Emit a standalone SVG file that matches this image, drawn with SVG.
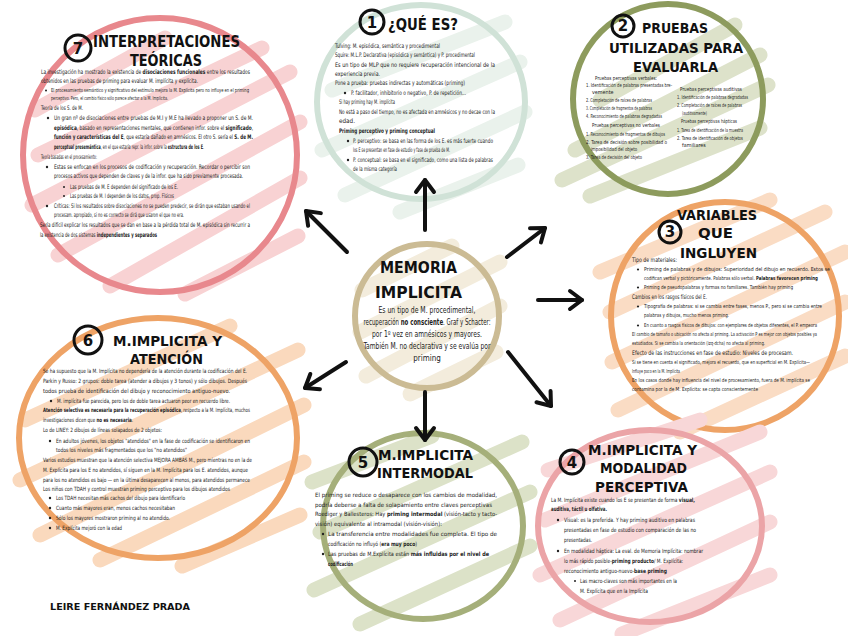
<svg xmlns="http://www.w3.org/2000/svg" width="848" height="636" viewBox="0 0 848 636">
<defs>
<style>
.scrib{fill:none;stroke-linecap:round;stroke-width:15}
.ring{fill:none;stroke-width:6}
.num{fill:none;stroke:#111;stroke-width:3}
.numt{font-family:"DejaVu Sans",sans-serif;font-weight:bold;font-size:15px;fill:#111;text-anchor:middle}
.ttl{font-family:"DejaVu Sans",sans-serif;font-weight:bold;fill:#111}
.t{font-family:"Liberation Sans Narrow","DejaVu Sans Condensed","Liberation Sans",sans-serif;font-size:6.3px;fill:#222}
.s{font-family:"Liberation Sans Narrow","DejaVu Sans Condensed","Liberation Sans",sans-serif;font-size:5.4px;fill:#222}
.c{font-family:"Liberation Sans Narrow","DejaVu Sans Condensed","Liberation Sans",sans-serif;font-size:8px;fill:#222;text-anchor:middle}
.m{font-size:5.8px}
.b{font-weight:bold}
.dot{fill:#222}
.arr{stroke:#111;stroke-width:4;stroke-linecap:round;fill:none}
</style>
<marker id="ah" markerUnits="userSpaceOnUse" markerWidth="24" markerHeight="24" viewBox="0 0 24 24" refX="16" refY="12" orient="auto">
<path d="M4,3 L16,12 L4,21" fill="none" stroke="#111" stroke-width="4" stroke-linecap="round" stroke-linejoin="round"/>
</marker>
</defs>
<rect width="848" height="636" fill="#ffffff"/>

<!-- Node 7 -->
<g id="node-7">
<g class="scrib" stroke="#f8d2d3">
<path d="M35,110 L165,38"/><path d="M38,155 L262,48"/><path d="M32,205 L290,72"/><path d="M58,255 L300,122"/><path d="M110,286 L300,178"/><path d="M185,294 L298,236"/>
</g>
<circle class="ring" cx="160" cy="155" r="137" stroke="#e8888d"/>
<circle class="num" cx="78" cy="48" r="13"/><text class="numt" x="78" y="54">7</text>
<text class="ttl" x="93" y="47" font-size="15" textLength="147" lengthAdjust="spacingAndGlyphs">INTERPRETACIONES</text>
<text class="ttl" x="130" y="66" font-size="15" textLength="72" lengthAdjust="spacingAndGlyphs">TEÓRICAS</text>
<text class="t" x="41" y="74" textLength="209" lengthAdjust="spacingAndGlyphs">La investigación ha mostrado la existencia de <tspan class="b">disociaciones funcionales</tspan> entre los resultados</text>
<text class="t" x="41" y="83" textLength="157" lengthAdjust="spacingAndGlyphs">obtenidos en las pruebas de priming para evaluar M. implícita y explícita.</text>
<circle class="dot" cx="46" cy="90.5" r="1"/>
<text class="s" x="51" y="92" textLength="198" lengthAdjust="spacingAndGlyphs">El procesamiento semántico y significativo del estímulo mejora la M. Explícita pero no influye en el priming</text>
<text class="s" x="51" y="100" textLength="117" lengthAdjust="spacingAndGlyphs">perceptivo. Pero, el cambio físico sólo parece afectar a la M. Implícita.</text>
<text class="t" x="41" y="110" textLength="42" lengthAdjust="spacingAndGlyphs">Teoría de los S. de M.</text>
<circle class="dot" cx="48" cy="118" r="1.2"/>
<text class="t" x="54" y="120" textLength="199" lengthAdjust="spacingAndGlyphs">Un gran nº de disociaciones entre pruebas de M.I y M.E ha llevado a proponer un S. de M.</text>
<text class="t" x="54" y="129.5" textLength="199" lengthAdjust="spacingAndGlyphs"><tspan class="b">episódica</tspan>, basado en representaciones mentales, que contienen infor. sobre el <tspan class="b">significado</tspan>,</text>
<text class="t" x="54" y="139" textLength="199" lengthAdjust="spacingAndGlyphs"><tspan class="b">función y características del E</tspan>, que estaría dañado en amnésicos. El otro S. sería el <tspan class="b">S. de M.</tspan></text>
<text class="t" x="54" y="149" textLength="150" lengthAdjust="spacingAndGlyphs"><tspan class="b">perceptual presemántica</tspan>, en el que estaría repr. la infor. sobre la <tspan class="b">estructura de los E</tspan>.</text>
<text class="t" x="41" y="159" textLength="56" lengthAdjust="spacingAndGlyphs">Teoría basadas en el procesamiento:</text>
<circle class="dot" cx="47" cy="167" r="1.2"/>
<text class="t" x="54" y="169" textLength="196" lengthAdjust="spacingAndGlyphs">Estas se enfocan en los procesos de codificación y recuperación. Recordar o percibir son</text>
<text class="t" x="54" y="178" textLength="189" lengthAdjust="spacingAndGlyphs">procesos activos que dependen de claves y de la infor. que ha sido previamente procesada.</text>
<circle class="dot" cx="64" cy="187" r="1"/>
<text class="t" x="70" y="189" textLength="108" lengthAdjust="spacingAndGlyphs">Las pruebas de M. E dependen del significado de los E.</text>
<circle class="dot" cx="64" cy="196" r="1"/>
<text class="t" x="70" y="198" textLength="104" lengthAdjust="spacingAndGlyphs">Las pruebas de M. I dependen de los datos, prop. Físicos</text>
<circle class="dot" cx="47" cy="206" r="1.2"/>
<text class="t" x="54" y="208" textLength="196" lengthAdjust="spacingAndGlyphs">Críticas: Si los resultados sobre disociaciones no se pueden predecir, se dirán que estaban usando el</text>
<text class="t" x="54" y="217" textLength="130" lengthAdjust="spacingAndGlyphs">procesam. apropiado, si no es correcto se dirá que usaron el que no era.</text>
<text class="t" x="40" y="227" textLength="210" lengthAdjust="spacingAndGlyphs">Sería difícil explicar los resultados que se dan en base a la pérdida total de M. episódica sin recurrir a</text>
<text class="t" x="40" y="237" textLength="117" lengthAdjust="spacingAndGlyphs">la existencia de dos sistemas <tspan class="b">independientes y separados</tspan></text>
</g>

<!-- Node 1 -->
<g id="node-1">
<g class="scrib" stroke="#eaf2ec">
<path d="M332,90 L505,22"/><path d="M322,150 L520,62"/><path d="M345,195 L525,112"/><path d="M400,212 L518,165"/>
</g>
<ellipse class="ring" cx="421" cy="102" rx="104" ry="97" stroke="#d0e2d7"/>
<circle class="num" cx="372" cy="22" r="12"/><text class="numt" x="372" y="28">1</text>
<text class="ttl" x="388" y="30" font-size="15" textLength="70" lengthAdjust="spacingAndGlyphs">¿QUÉ ES?</text>
<text class="t" x="335" y="48" textLength="105" lengthAdjust="spacingAndGlyphs">Tulving: M. episódica, semántica y procedimental</text>
<text class="t" x="335" y="57" textLength="140" lengthAdjust="spacingAndGlyphs">Squire: M.L.P. Declarativa (episódica y semántica) y P. procedimental</text>
<text class="t" x="335" y="67" textLength="160" lengthAdjust="spacingAndGlyphs">Es un tipo de MLP que no requiere recuperación intencional de la</text>
<text class="t" x="335" y="76" textLength="45" lengthAdjust="spacingAndGlyphs">experiencia previa.</text>
<text class="t" x="335" y="85" textLength="130" lengthAdjust="spacingAndGlyphs">Pone a prueba: pruebas indirectas y automáticas (priming)</text>
<circle class="dot" cx="345" cy="93" r="1.2"/>
<text class="t" x="351" y="95" textLength="115" lengthAdjust="spacingAndGlyphs">P. facilitador, inhibitorio o negativo, P. de repetición...</text>
<text class="t" x="339" y="104" textLength="56" lengthAdjust="spacingAndGlyphs">Si hay priming hay M. implícita</text>
<text class="t" x="339" y="114" textLength="156" lengthAdjust="spacingAndGlyphs">No está a paso del tiempo, no es afectada en amnésicos y no decae con la</text>
<text class="t" x="339" y="123">edad.</text>
<text class="t b" x="339" y="133" textLength="96" lengthAdjust="spacingAndGlyphs">Priming perceptivo y priming conceptual</text>
<circle class="dot" cx="348" cy="141" r="1.2"/>
<text class="t" x="353" y="143" textLength="140" lengthAdjust="spacingAndGlyphs">P. perceptivo: se basa en las forma de los E. es más fuerte cuando</text>
<text class="t" x="353" y="152" textLength="97" lengthAdjust="spacingAndGlyphs">los E se presentan en fase de estudio y fase de prueba de M.</text>
<circle class="dot" cx="348" cy="160" r="1.2"/>
<text class="t" x="353" y="162" textLength="140" lengthAdjust="spacingAndGlyphs">P. conceptual: se basa en el significado, como una lista de palabras</text>
<text class="t" x="353" y="171" textLength="44" lengthAdjust="spacingAndGlyphs">de la misma categoría</text>
</g>

<!-- Node 2 -->
<g id="node-2">
<g class="scrib" stroke="#dde2ca">
<path d="M600,100 L735,25"/><path d="M575,150 L760,55"/><path d="M562,180 L768,85"/><path d="M590,196 L760,128"/>
</g>
<circle class="ring" cx="668" cy="99" r="95" stroke="#8d9b5d"/>
<circle class="num" cx="623" cy="26" r="11"/><text class="numt" x="623" y="31" font-size="13">2</text>
<text class="ttl" x="642" y="33" font-size="14" textLength="66" lengthAdjust="spacingAndGlyphs">PRUEBAS</text>
<text class="ttl" x="609" y="53" font-size="14" textLength="134" lengthAdjust="spacingAndGlyphs">UTILIZADAS PARA</text>
<text class="ttl" x="633" y="72" font-size="14" textLength="85" lengthAdjust="spacingAndGlyphs">EVALUARLA</text>
<text class="s" x="595" y="80" textLength="62" lengthAdjust="spacingAndGlyphs">Pruebas perceptivas verbales:</text>
<text class="s" x="586" y="87" textLength="86" lengthAdjust="spacingAndGlyphs">1. Identificación de palabras presentadas bre-</text>
<text class="s" x="592" y="94">vemente</text>
<text class="s" x="586" y="102" textLength="66" lengthAdjust="spacingAndGlyphs">2. Completación de raíces de palabras</text>
<text class="s" x="586" y="110" textLength="66" lengthAdjust="spacingAndGlyphs">3. Completación de fragmentos de palabras</text>
<text class="s" x="586" y="118" textLength="76" lengthAdjust="spacingAndGlyphs">4. Reconocimiento de palabras degradadas</text>
<text class="s" x="592" y="127" textLength="68" lengthAdjust="spacingAndGlyphs">Pruebas perceptivas no verbales</text>
<text class="s" x="586" y="136" textLength="79" lengthAdjust="spacingAndGlyphs">1. Reconocimiento de fragmentos de dibujos</text>
<text class="s" x="586" y="144" textLength="81" lengthAdjust="spacingAndGlyphs">2. Tarea de decisión sobre posibilidad o</text>
<text class="s" x="591" y="151" textLength="46" lengthAdjust="spacingAndGlyphs">imposibilidad del objeto</text>
<text class="s" x="586" y="159" textLength="56" lengthAdjust="spacingAndGlyphs">3. Tarea de decisión del objeto</text>
<text class="s" x="680" y="91" textLength="62" lengthAdjust="spacingAndGlyphs">Pruebas perceptivas auditivas</text>
<text class="s" x="677" y="99" textLength="71" lengthAdjust="spacingAndGlyphs">1. Identificación de palabras degradadas</text>
<text class="s" x="677" y="107" textLength="65" lengthAdjust="spacingAndGlyphs">2. Completación de raíces de palabras</text>
<text class="s" x="682" y="115" textLength="25" lengthAdjust="spacingAndGlyphs">(auditivamente)</text>
<text class="s" x="681" y="123" textLength="56" lengthAdjust="spacingAndGlyphs">Pruebas perceptivas hápticas</text>
<text class="s" x="677" y="132" textLength="66" lengthAdjust="spacingAndGlyphs">1. Tarea de identificación de la muestra</text>
<text class="s" x="677" y="140" textLength="66" lengthAdjust="spacingAndGlyphs">2. Tarea de identificación de objetos</text>
<text class="s" x="682" y="147">familiares</text>
</g>

<!-- Node 3 -->
<g id="node-3">
<g class="scrib" stroke="#fadcc4">
<path d="M600,272 L770,200"/><path d="M610,312 L825,212"/><path d="M612,362 L845,252"/><path d="M618,410 L845,302"/><path d="M680,432 L845,356"/>
</g>
<circle class="ring" cx="725" cy="316" r="114" stroke="#eea366"/>
<circle class="num" cx="670" cy="232" r="11"/><text class="numt" x="670" y="237" font-size="13">3</text>
<text class="ttl" x="677" y="220" font-size="14" textLength="80" lengthAdjust="spacingAndGlyphs">VARIABLES</text>
<text class="ttl" x="698" y="238" font-size="14" textLength="35" lengthAdjust="spacingAndGlyphs">QUE</text>
<text class="ttl" x="680" y="258" font-size="14" textLength="77" lengthAdjust="spacingAndGlyphs">INGLUYEN</text>
<text class="t" x="632" y="262" textLength="45" lengthAdjust="spacingAndGlyphs">Tipo de materiales:</text>
<circle class="dot" cx="638" cy="269.5" r="1.1"/>
<text class="s" x="644" y="271" textLength="186" lengthAdjust="spacingAndGlyphs">Priming de palabras y de dibujos: Superioridad del dibujo en recuerdo. Estos se</text>
<text class="s" x="644" y="280" textLength="174" lengthAdjust="spacingAndGlyphs">codifican verbal y pictóricamente. Palabras sólo verbal. <tspan class="b">Palabras favorecen priming</tspan></text>
<circle class="dot" cx="638" cy="287.5" r="1.1"/>
<text class="s" x="644" y="289" textLength="149" lengthAdjust="spacingAndGlyphs">Priming de pseudopalabras y formas no familiares. También hay priming</text>
<text class="t" x="632" y="299" textLength="75" lengthAdjust="spacingAndGlyphs">Cambios en los rasgos físicos del E.</text>
<circle class="dot" cx="638" cy="306.5" r="1.1"/>
<text class="s" x="644" y="308" font-size="4.8" textLength="178" lengthAdjust="spacingAndGlyphs">Tipografía de palabras: si se cambia entre fases, menos P., pero si se cambia entre</text>
<text class="s" x="644" y="317" textLength="85" lengthAdjust="spacingAndGlyphs">palabras y dibujos, mucho menos priming.</text>
<circle class="dot" cx="638" cy="325.5" r="1.1"/>
<text class="s" x="644" y="327" font-size="4.3" textLength="173" lengthAdjust="spacingAndGlyphs">En cuanto a rasgos físicos de dibujos: con ejemplares de objetos diferentes, el P. empeora</text>
<text class="s" x="632" y="336" font-size="4.2" textLength="185" lengthAdjust="spacingAndGlyphs">El cambio de tamaño o ubicación no afecta al priming. La activación P es mejor con objetos posibles ya</text>
<text class="s" x="632" y="345" textLength="133" lengthAdjust="spacingAndGlyphs">estudiados. Si se cambia la orientación (izq-dcha) no afecta al priming.</text>
<text class="t" x="632" y="355" font-size="7" textLength="161" lengthAdjust="spacingAndGlyphs">Efecto de las instrucciones en fase de estudio: Niveles de procesam.</text>
<text class="s" x="632" y="364" font-size="4.4" textLength="178" lengthAdjust="spacingAndGlyphs">Si se tiene en cuenta el significado, mejora el recuerdo, que en superficial en M. Explícita—</text>
<text class="s" x="632" y="373" textLength="48" lengthAdjust="spacingAndGlyphs">Influye poco en la M. Implícita</text>
<text class="s" x="632" y="382" font-size="4.8" textLength="178" lengthAdjust="spacingAndGlyphs">En los casos donde hay influencia del nivel de procesamiento, fuera de M. implícita se</text>
<text class="s" x="632" y="391" textLength="126" lengthAdjust="spacingAndGlyphs">contamina por la de M. Explícita: se capta conscientemente</text>
</g>

<!-- Node 4 -->
<g id="node-4">
<g class="scrib" stroke="#f8d7d8">
<path d="M548,470 L700,420"/><path d="M545,520 L760,432"/><path d="M540,575 L770,472"/><path d="M560,620 L770,522"/><path d="M622,634 L770,575"/>
</g>
<ellipse class="ring" cx="650" cy="526" rx="112" ry="96" stroke="#eba4a7"/>
<circle class="num" cx="572" cy="462" r="12"/><text class="numt" x="572" y="468" font-size="14">4</text>
<text class="ttl" x="588" y="455" font-size="14" textLength="109" lengthAdjust="spacingAndGlyphs">M.IMPLICITA Y</text>
<text class="ttl" x="600" y="473" font-size="14" textLength="87" lengthAdjust="spacingAndGlyphs">MODALIDAD</text>
<text class="ttl" x="595" y="492" font-size="14" textLength="93" lengthAdjust="spacingAndGlyphs">PERCEPTIVA</text>
<text class="t m" x="551" y="502" textLength="144" lengthAdjust="spacingAndGlyphs">La M. Implícita existe cuando los E se presentan de forma <tspan class="b">visual,</tspan></text>
<text class="t m b" x="551" y="511" textLength="56" lengthAdjust="spacingAndGlyphs">auditiva, táctil u olfativa.</text>
<circle class="dot" cx="558" cy="520" r="1.2"/>
<text class="t m" x="564" y="522" textLength="131" lengthAdjust="spacingAndGlyphs">Visual: es la preferida. Y hay priming auditivo en palabras</text>
<text class="t m" x="564" y="532" textLength="132" lengthAdjust="spacingAndGlyphs">presentadas en fase de estudio con comparación de las no</text>
<text class="t m" x="564" y="542" textLength="28" lengthAdjust="spacingAndGlyphs">presentadas.</text>
<circle class="dot" cx="558" cy="551" r="1.2"/>
<text class="t m" x="564" y="553" textLength="139" lengthAdjust="spacingAndGlyphs">En modalidad háptica: La eval. de Memoria Implícita: nombrar</text>
<text class="t m" x="564" y="563" textLength="119" lengthAdjust="spacingAndGlyphs">lo más rápido posible-<tspan class="b">priming producto</tspan>/ M. Explícita:</text>
<text class="t m" x="564" y="573" textLength="103" lengthAdjust="spacingAndGlyphs">reconocimiento antiguo-nuevo-<tspan class="b">base priming</tspan></text>
<circle class="dot" cx="575" cy="581" r="1"/>
<text class="t m" x="580" y="583" textLength="97" lengthAdjust="spacingAndGlyphs">Las macro-claves son más importantes en la</text>
<text class="t m" x="580" y="593" textLength="68" lengthAdjust="spacingAndGlyphs">M. Explícita que en la Implícita</text>
</g>

<!-- Node 5 -->
<g id="node-5">
<g class="scrib" stroke="#dce2c8">
<path d="M312,482 L432,436"/><path d="M320,532 L522,442"/><path d="M314,590 L530,492"/><path d="M360,624 L530,546"/>
</g>
<ellipse class="ring" cx="423" cy="526" rx="100" ry="93" stroke="#a5af7a"/>
<circle class="num" cx="363" cy="462" r="14"/><text class="numt" x="363" y="468" font-size="16">5</text>
<text class="ttl" x="378" y="460" font-size="14" textLength="95" lengthAdjust="spacingAndGlyphs">M.IMPLICITA</text>
<text class="ttl" x="377" y="478" font-size="14" textLength="96" lengthAdjust="spacingAndGlyphs">INTERMODAL</text>
<text class="t m" x="315" y="497" textLength="182" lengthAdjust="spacingAndGlyphs">El priming se reduce o desaparece con los cambios de modalidad,</text>
<text class="t m" x="315" y="506.5" textLength="177" lengthAdjust="spacingAndGlyphs">podría deberse a falta de solapamiento entre claves perceptivas</text>
<text class="t m" x="315" y="516" textLength="182" lengthAdjust="spacingAndGlyphs">Roediger y Ballesteros: Hay <tspan class="b">priming intermodal</tspan> (visión-tacto y tacto-</text>
<text class="t m" x="315" y="525.5" textLength="127" lengthAdjust="spacingAndGlyphs">visión) equivalente al intramodal (visión-visión):</text>
<circle class="dot" cx="323" cy="534" r="1.2"/>
<text class="t m" x="328" y="536" textLength="169" lengthAdjust="spacingAndGlyphs">La transferencia entre modalidades fue completa. El tipo de</text>
<text class="t m" x="328" y="545.5" textLength="89" lengthAdjust="spacingAndGlyphs">codificación no influyó (<tspan class="b">era muy poco</tspan>)</text>
<circle class="dot" cx="323" cy="554" r="1.2"/>
<text class="t m" x="328" y="556" textLength="161" lengthAdjust="spacingAndGlyphs">Las pruebas de M.Explícita están <tspan class="b">más influidas por el nivel de</tspan></text>
<text class="t m b" x="328" y="565.5" textLength="25" lengthAdjust="spacingAndGlyphs">codificación</text>
</g>

<!-- Node 6 -->
<g id="node-6">
<g class="scrib" stroke="#fad9bd">
<path d="M25,420 L230,326"/><path d="M20,480 L298,350"/><path d="M40,535 L304,405"/><path d="M100,560 L304,462"/><path d="M182,566 L300,515"/>
</g>
<ellipse class="ring" cx="158" cy="438" rx="139" ry="120" stroke="#eea366"/>
<circle class="num" cx="88" cy="340" r="14"/><text class="numt" x="88" y="346" font-size="16">6</text>
<text class="ttl" x="113" y="346" font-size="14" textLength="109" lengthAdjust="spacingAndGlyphs">M.IMPLICITA Y</text>
<text class="ttl" x="130" y="364" font-size="14" textLength="73" lengthAdjust="spacingAndGlyphs">ATENCIÓN</text>
<text class="t m" x="43" y="373" textLength="204" lengthAdjust="spacingAndGlyphs">Se ha supuesto que la M. Implícita no dependería de la atención durante la codificación del E.</text>
<text class="t m" x="43" y="383" textLength="204" lengthAdjust="spacingAndGlyphs">Parkin y Russo: 2 grupos: doble tarea (atender a dibujos y 3 tonos) y sólo dibujos. Después</text>
<text class="t m" x="43" y="393" textLength="187" lengthAdjust="spacingAndGlyphs">todos prueba de identificación del dibujo y reconocimiento antiguo-nuevo.</text>
<circle class="dot" cx="51" cy="401" r="1.2"/>
<text class="t m" x="57" y="403" textLength="173" lengthAdjust="spacingAndGlyphs">M. implícita fue parecida, pero los de doble tarea actuaron peor en recuerdo libre.</text>
<text class="t m" x="43" y="412" textLength="207" lengthAdjust="spacingAndGlyphs"><tspan class="b">Atención selectiva es necesaria para la recuperación episódica</tspan>, respecto a la M. Implícita, muchos</text>
<text class="t m" x="43" y="422" textLength="90" lengthAdjust="spacingAndGlyphs">investigaciones dicen que <tspan class="b">no es necesaria</tspan>.</text>
<text class="t m" x="43" y="432" textLength="119" lengthAdjust="spacingAndGlyphs">Lo de LINEY: 2 dibujos de líneas solapados de 2 objetos:</text>
<circle class="dot" cx="50" cy="441" r="1.2"/>
<text class="t m" x="56" y="443" textLength="194" lengthAdjust="spacingAndGlyphs">En adultos jóvenes, los objetos "atendidos" en la fase de codificación se identificaron en</text>
<text class="t m" x="56" y="452" textLength="131" lengthAdjust="spacingAndGlyphs">todos los niveles más fragmentados que los "no atendidos"</text>
<text class="t m" x="43" y="462" textLength="209" lengthAdjust="spacingAndGlyphs">Varios estudios muestran que la atención selectiva MEJORA AMBAS M., pero mientras no en la de</text>
<text class="t m" x="43" y="472" textLength="205" lengthAdjust="spacingAndGlyphs">M. Explícita para los E no atendidos, sí siguen en la M. Implícita para los E. atendidos, aunque</text>
<text class="t m" x="43" y="482" textLength="207" lengthAdjust="spacingAndGlyphs">para los no atendidos es bajo — en la última desaparecen al menos, para atendidos permanece</text>
<text class="t m" x="43" y="491" textLength="187" lengthAdjust="spacingAndGlyphs">Los niños con TDAH y control muestran priming perceptivo para los dibujos atendidos</text>
<circle class="dot" cx="50" cy="498" r="1.2"/>
<text class="t m" x="56" y="500" textLength="129" lengthAdjust="spacingAndGlyphs">Los TDAH necesitan más cachos del dibujo para identificarlo</text>
<circle class="dot" cx="50" cy="508" r="1.2"/>
<text class="t m" x="56" y="510" textLength="119" lengthAdjust="spacingAndGlyphs">Cuanto más mayores eran, menos cachos necesitaban</text>
<circle class="dot" cx="50" cy="518" r="1.2"/>
<text class="t m" x="56" y="520" textLength="114" lengthAdjust="spacingAndGlyphs">Sólo los mayores mostraron priming al no atendido.</text>
<circle class="dot" cx="50" cy="528" r="1.2"/>
<text class="t m" x="56" y="530" textLength="66" lengthAdjust="spacingAndGlyphs">M. Explícita mejoró con la edad</text>
</g>

<!-- Center node -->
<g id="node-center">
<g class="scrib" stroke="#f3ecdc">
<path d="M362,290 L452,246"/><path d="M360,332 L500,262"/><path d="M366,376 L500,306"/><path d="M410,394 L496,352"/>
</g>
<circle class="ring" cx="427" cy="316" r="72" stroke="#cbbb94"/>
<text class="ttl" x="380" y="273" font-size="16" textLength="77" lengthAdjust="spacingAndGlyphs">MEMORIA</text>
<text class="ttl" x="375" y="298" font-size="16" textLength="87" lengthAdjust="spacingAndGlyphs">IMPLICITA</text>
<text class="c" x="427" y="313" textLength="97" lengthAdjust="spacingAndGlyphs">Es un tipo de M. procedimental,</text>
<text class="c" x="427" y="325" textLength="127" lengthAdjust="spacingAndGlyphs">recuperación <tspan class="b">no consciente</tspan>. Graf y Schacter:</text>
<text class="c" x="427" y="337" textLength="110" lengthAdjust="spacingAndGlyphs">por 1º vez en amnésicos y mayores.</text>
<text class="c" x="427" y="349" textLength="127" lengthAdjust="spacingAndGlyphs">También M. no declarativa y se evalúa por</text>
<text class="c" x="427" y="361">priming</text>
</g>

<!-- Connectors -->
<g id="connectors">
<line class="arr" x1="425" y1="230" x2="425" y2="180" marker-end="url(#ah)"/>
<line class="arr" x1="347" y1="252" x2="306" y2="211" marker-end="url(#ah)"/>
<line class="arr" x1="507" y1="257" x2="545" y2="228" marker-end="url(#ah)"/>
<line class="arr" x1="538" y1="300" x2="582" y2="300" marker-end="url(#ah)"/>
<line class="arr" x1="508" y1="352" x2="551" y2="406" marker-end="url(#ah)"/>
<line class="arr" x1="425" y1="392" x2="425" y2="440" marker-end="url(#ah)"/>
<line class="arr" x1="346" y1="362" x2="305" y2="388" marker-end="url(#ah)"/>
</g>

<g id="author">
<text class="ttl" x="50" y="610" font-size="8" textLength="140" lengthAdjust="spacingAndGlyphs">LEIRE FERNÁNDEZ PRADA</text>
</g>
</svg>
